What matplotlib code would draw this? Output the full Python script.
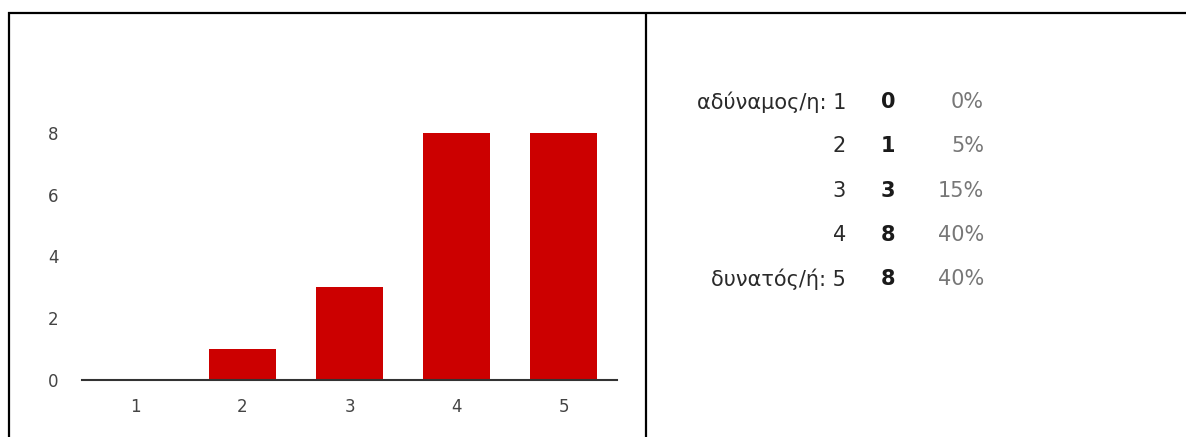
import matplotlib
matplotlib.use("Agg")
import matplotlib.pyplot as plt
from matplotlib.lines import Line2D

plt.rcParams['font.family'] = ['DejaVu Sans']

# Response counts for the 1-5 scale
categories = [1, 2, 3, 4, 5]
counts = [0, 1, 3, 8, 8]
percents = ["0%", "5%", "15%", "40%", "40%"]
row_labels = ["αδύναμος/η: 1", "2", "3", "4", "δυνατός/ή: 5"]
y_ticks = [0, 2, 4, 6, 8]

W, H = 1186, 437
fig = plt.figure(figsize=(W / 100, H / 100), dpi=100)
fig.patch.set_facecolor("white")

# Bar chart panel
ax = fig.add_axes([82 / W, 57 / H, (617 - 82) / W, 309 / H])
ax.bar(categories, counts, width=0.62, color="#cc0000", zorder=2)
ax.set_xlim(0.5, 5.5)
ax.set_ylim(0, 10)
ax.set_xticks(categories)
ax.set_yticks(y_ticks)
ax.tick_params(axis="both", length=0, labelsize=12, labelcolor="#444444")
ax.tick_params(axis="x", pad=13)
ax.tick_params(axis="y", pad=17)
for s in ["top", "right", "left"]:
    ax.spines[s].set_visible(False)
ax.spines["bottom"].set_color("#333333")
ax.spines["bottom"].set_linewidth(1.5)
ax.spines["bottom"].set_zorder(3)

# Summary table on the right
row_y = [102, 146, 191, 235, 279]
for lab, c, p, y in zip(row_labels, counts, percents, row_y):
    fy = 1 - y / H
    fig.text(846 / W, fy, lab, ha="right", va="center", fontsize=15, color="#2a2a2a")
    fig.text(888 / W, fy, str(c), ha="center", va="center", fontsize=15,
             color="#1a1a1a", fontweight="bold")
    fig.text(984 / W, fy, p, ha="right", va="center", fontsize=15, color="#777777")

# Frame lines
def frame_line(xs, ys):
    fig.add_artist(Line2D([x / W for x in xs], [1 - y / H for y in ys],
                          transform=fig.transFigure, color="black", lw=1.6,
                          solid_capstyle="butt"))

frame_line([8, W], [12.5, 12.5])
frame_line([8.5, 8.5], [12, H])
frame_line([646, 646], [12, H])

fig.savefig("out.png", dpi=100, facecolor="white")
